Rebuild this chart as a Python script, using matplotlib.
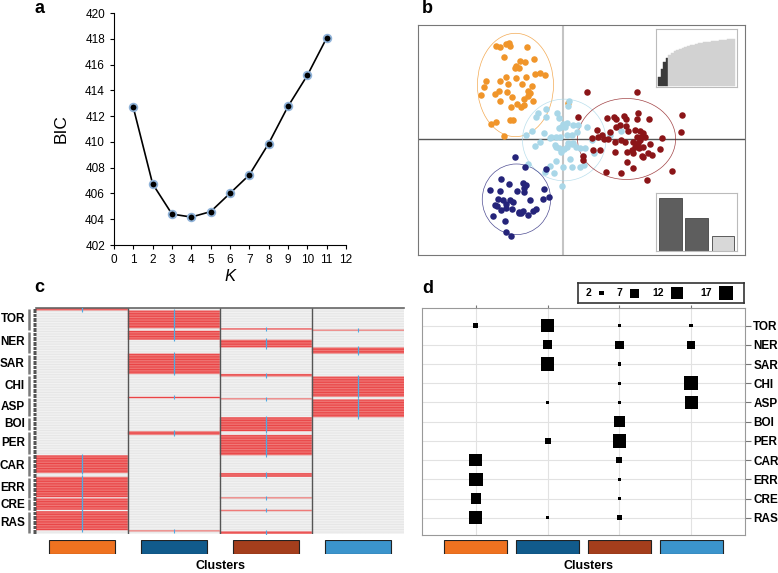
import matplotlib.pyplot as plt
import numpy as np
from matplotlib.patches import Ellipse
from matplotlib.colors import ListedColormap
import matplotlib.transforms as mtransforms

plt.rcParams['font.family'] = ['Liberation Sans', 'DejaVu Sans']

# ---- data ----
# a: BIC against number of clusters
k_values = np.arange(1, 12)
bic = [412.67, 406.74, 404.40, 404.17, 404.59, 406.01, 407.44, 409.87, 412.75, 415.16, 418.06]

# b: individuals on the first two discriminant functions
orange_xy = [(-2.02, 2.79), (-1.90, 2.77), (-1.70, 2.85), (-1.62, 2.87), (-1.60, 2.80), (-1.08, 2.75),
             (-1.78, 2.45), (-1.28, 2.34), (-1.15, 2.31), (-0.88, 2.40), (-1.40, 2.19), (-1.32, 2.13),
             (-1.45, 2.13), (-1.70, 1.85), (-1.90, 1.74), (-1.40, 1.83), (-0.83, 1.94), (-0.70, 1.99),
             (-0.53, 1.91), (-1.12, 1.85), (-2.32, 1.74), (-2.38, 1.55), (-1.92, 1.45), (-1.65, 1.65),
             (-1.22, 1.65), (-0.92, 1.59), (-2.45, 1.33), (-2.05, 1.34), (-1.68, 1.41), (-1.05, 1.45),
             (-1.00, 1.37), (-1.04, 1.29), (-1.88, 1.15), (-1.52, 1.27), (-1.18, 1.19), (-0.90, 1.15),
             (-1.37, 1.05), (-1.55, 0.97), (-1.18, 1.02), (-1.25, 0.97), (-2.15, 0.45), (-2.02, 0.51),
             (-1.60, 0.57), (-1.50, 0.57), (-1.77, 0.09), (0.13, 1.09)]
lightblue_xy = [(0.18, 1.14), (0.15, 0.99), (-0.18, 0.77), (-0.52, 0.90), (-0.82, 0.67), (-0.75, 0.77),
                (-0.50, 0.65), (-0.12, 0.62), (0.00, 0.45), (-0.05, 0.37), (0.05, 0.37), (-0.12, 0.32),
                (0.10, 0.49), (0.30, 0.42), (0.45, 0.42), (0.42, 0.22), (0.70, 0.35), (0.25, 0.12),
                (0.10, 0.12), (-0.08, 0.07), (-0.20, 0.05), (-0.35, 0.05), (-0.57, 0.17), (-0.94, 0.24),
                (-1.10, 0.12), (-0.70, -0.08), (-0.85, -0.20), (-0.38, 0.02), (-0.25, -0.18), (-0.20, -0.23),
                (-0.12, -0.28), (0.02, -0.31), (-0.05, -0.38), (0.10, -0.23), (0.25, -0.15), (0.30, -0.11),
                (0.38, -0.23), (0.50, -0.28), (0.60, -0.51), (0.93, -0.43), (0.85, -0.03), (0.65, -0.28),
                (0.20, -0.61), (-0.20, -0.65), (-0.40, -0.81), (-0.53, -0.98), (-0.27, -1.01), (0.00, -0.83),
                (0.25, -0.83), (0.50, -0.83), (0.63, -0.78), (0.15, -0.13), (1.72, 0.24), (1.40, 0.12),
                (-0.02, -1.41), (-1.05, -0.76)]
darkred_xy = [(0.70, 1.42), (2.22, 1.40), (0.44, 0.67), (1.30, 0.62), (1.53, 0.65), (1.58, 0.60),
              (1.82, 0.70), (1.88, 0.59), (2.20, 0.59), (2.25, 0.79), (2.58, 0.59), (3.55, 0.72),
              (1.00, 0.27), (1.40, 0.21), (1.58, 0.37), (1.70, 0.42), (1.88, 0.39), (1.95, 0.25),
              (2.15, 0.27), (2.30, 0.25), (2.40, 0.17), (0.85, 0.04), (1.05, 0.07), (1.15, 0.12),
              (1.22, -0.01), (1.35, -0.01), (1.55, -0.08), (1.72, -0.03), (1.86, -0.08), (2.10, -0.08),
              (2.20, 0.05), (2.32, 0.05), (2.45, 0.07), (2.95, 0.04), (3.52, 0.22), (0.58, -0.51),
              (0.60, -0.63), (0.90, -0.33), (1.10, -0.33), (1.55, -0.38), (1.92, -0.38), (2.15, -0.23),
              (2.25, -0.13), (2.28, -0.28), (2.38, -0.23), (2.60, -0.16), (2.90, -0.30), (2.65, -0.48),
              (2.40, -0.53), (1.90, -0.70), (2.10, -0.88), (2.35, -0.51), (2.55, -0.43), (1.27, -0.98),
              (1.72, -1.03), (2.50, -1.23), (3.27, -0.95), (2.30, -0.03), (2.10, -0.43), (2.05, -0.33)]
navy_xy = [(-1.45, -0.53), (-1.13, -0.85), (-0.50, -0.91), (-1.85, -1.21), (-1.62, -1.36), (-1.20, -1.31),
           (-1.12, -1.38), (-1.18, -1.48), (-1.38, -1.56), (-2.20, -1.53), (-1.90, -1.55), (-1.18, -1.58),
           (-0.58, -1.51), (-0.43, -1.75), (-0.60, -1.81), (-1.95, -1.81), (-1.80, -1.83), (-1.60, -1.83),
           (-1.50, -1.88), (-1.70, -1.95), (-2.05, -1.98), (-1.97, -2.00), (-1.85, -2.13), (-1.72, -2.08),
           (-1.52, -2.11), (-1.32, -2.18), (-1.25, -2.23), (-1.05, -2.28), (-0.90, -2.15), (-2.10, -2.31),
           (-1.75, -2.45), (-1.32, -2.23), (-1.70, -2.78), (-1.55, -2.91), (-1.20, -2.15), (-1.00, -1.83),
           (-0.82, -2.11)]
# ellipse centre x, centre y, width, height
orange_ell = (-1.43, 1.62, 2.28, 3.10)
lightblue_ell = (0.03, -0.03, 2.50, 2.45)
darkred_ell = (1.90, 0.00, 2.94, 2.43)
navy_ell = (-1.40, -1.81, 2.05, 2.12)

# b insets: retained PCA variance (cumulative %) and discriminant eigenvalues
pca_cumvar = [18, 35, 50, 60, 67, 71, 74, 77, 79, 81, 83, 85, 87, 88, 89.5,
              91, 92, 93, 94, 95, 96, 96.5, 97, 98, 98.5, 99, 99.5, 100, 100]
n_pca_kept = 4
da_eig = [159, 100, 46]

# c/d: populations and number of individuals assigned to each cluster
pops = ['TOR', 'NER', 'SAR', 'CHI', 'ASP', 'BOI', 'PER', 'CAR', 'ERR', 'CRE', 'RAS']
counts = np.array([
    [2, 14, 1, 1],
    [0, 7, 6, 5],
    [0, 16, 1, 0],
    [0, 0, 1, 16],
    [0, 1, 1, 14],
    [0, 0, 11, 0],
    [0, 3, 16, 0],
    [14, 0, 3, 0],
    [16, 0, 1, 0],
    [9, 0, 1, 0],
    [15, 1, 2, 0],
])
legend_sizes = [2, 7, 12, 17]
cluster_colors = ['#ef7220', '#115b8c', '#a43e1c', '#3b94cc']

fig = plt.figure(figsize=(7.78, 5.73), dpi=100)

# ---------------- a ----------------
ax_a = fig.add_axes([0.1465, 0.5724, 0.2982, 0.4049])
ax_a.plot(k_values, bic, color='black', lw=1.2, marker='o', ms=5.5,
          mfc='black', mec='#8fb2d8', mew=1.3)
ax_a.set_xlim(0, 12)
ax_a.set_ylim(402, 420)
ax_a.set_xticks(range(0, 13))
ax_a.set_yticks(range(402, 421, 2))
ax_a.spines['top'].set_visible(False)
ax_a.spines['right'].set_visible(False)
ax_a.tick_params(labelsize=8.5, length=3, direction='out')
ax_a.set_ylabel('BIC', fontsize=12.5, labelpad=12)
ax_a.set_xlabel('K', fontsize=12, style='italic', labelpad=2)

# ---------------- b ----------------
ax_b = fig.add_axes([0.5373, 0.555, 0.4203, 0.4014])
ax_b.set_xlim(-4.35, 5.45)
ax_b.set_ylim(-3.48, 3.42)
ax_b.axvline(0, color='#c4c4c4', lw=1.5, zorder=1)
ax_b.axhline(0, color='#555555', lw=1.0, zorder=1)
groups = [(orange_xy, orange_ell, '#f0952a'),
          (lightblue_xy, lightblue_ell, '#a9d7e8'),
          (darkred_xy, darkred_ell, '#8b1518'),
          (navy_xy, navy_ell, '#25247a')]
for pts, ell, col in groups:
    pts = np.array(pts)
    ax_b.scatter(pts[:, 0], pts[:, 1], s=22, color=col, lw=0, zorder=3)
    ax_b.add_patch(Ellipse((ell[0], ell[1]), ell[2], ell[3], fill=False,
                           ec=col, lw=0.5, alpha=0.8, zorder=2))
ax_b.set_xticks([])
ax_b.set_yticks([])
for s in ax_b.spines.values():
    s.set_color('#777777')

# inset: PCA variance
ax_i1 = fig.add_axes([0.8432, 0.8482, 0.1041, 0.1012])
bx = np.arange(len(pca_cumvar))
bar_cols = ['#3a3a3a' if i < n_pca_kept else '#d2d2d2' for i in bx]
ax_i1.bar(bx, pca_cumvar, width=1.0, color=bar_cols, ec=bar_cols, lw=0.3)
ax_i1.set_xlim(-1.2, len(pca_cumvar) + 0.3)
ax_i1.set_ylim(-3, 122)
ax_i1.set_xticks([])
ax_i1.set_yticks([])
for s in ax_i1.spines.values():
    s.set_color('#bbbbbb')

# inset: discriminant eigenvalues
ax_i2 = fig.add_axes([0.8432, 0.5620, 0.1041, 0.1012])
ax_i2.bar(range(3), da_eig, width=0.86, color=['#5e5e5e', '#5e5e5e', '#d8d8d8'],
          ec='#444444', lw=0.6)
ax_i2.set_xlim(-0.55, 2.53)
ax_i2.set_ylim(0, 174)
ax_i2.set_xticks([])
ax_i2.set_yticks([])
for s in ax_i2.spines.values():
    s.set_color('#bbbbbb')

# ---------------- c ----------------
row_cluster = []
pop_bounds = []
for c in counts:
    start = len(row_cluster)
    for j, n in enumerate(c):
        row_cluster += [j] * n
    pop_bounds.append((start, len(row_cluster)))
row_cluster = np.array(row_cluster)
n_rows = len(row_cluster)

codes = np.zeros((n_rows, 4))
for i, j in enumerate(row_cluster):
    codes[i, :] = i % 2
    codes[i, j] = 2 + i % 2
cmap = ListedColormap(['#e6e6e6', '#f3f3f3', '#e94446', '#f07a78'])

ax_c = fig.add_axes([0.0463, 0.0681, 0.473, 0.3944])
# columns widened so smoothing only acts between rows
ax_c.imshow(np.repeat(codes, 60, axis=1), cmap=cmap, vmin=-0.5, vmax=3.5, aspect='auto',
            extent=(0, 4, n_rows, 0), interpolation='bilinear', interpolation_stage='rgba')
ax_c.scatter(row_cluster + 0.5, np.arange(n_rows) + 0.5, marker='|', s=6,
             color='#4fa9e2', lw=0.8, zorder=3)
for xv in [1, 2, 3]:
    ax_c.axvline(xv, color='#555555', lw=1.0)
ax_c.set_xlim(0, 4)
ax_c.set_ylim(n_rows, 0)
ax_c.set_xticks([])
ax_c.set_yticks(np.arange(n_rows) + 0.5)
ax_c.set_yticklabels([])
ax_c.tick_params(axis='y', length=2.5, width=0.6, color='#333333')
for k in ['left', 'right', 'bottom']:
    ax_c.spines[k].set_visible(False)
ax_c.spines['top'].set_color('#666666')
ax_c.spines['top'].set_linewidth(1.2)

trans = mtransforms.blended_transform_factory(ax_c.transAxes, ax_c.transData)
for name, (a, b) in zip(pops, pop_bounds):
    ax_c.plot([-0.019, -0.019], [a + 0.7, b - 0.7], color='#7a7a7a', lw=1.8,
              transform=trans, clip_on=False, solid_capstyle='butt')
    ax_c.text(-0.03, (a + b) / 2, name, transform=trans, ha='right', va='center',
              fontsize=8.5, fontweight='bold')

ax_cc = fig.add_axes([0.0463, 0.0332, 0.473, 0.0244])
ax_cc.bar(np.arange(4) + 0.5, [1] * 4, width=0.72, color=cluster_colors,
          ec='#222222', lw=0.8)
ax_cc.set_xlim(0, 4)
ax_cc.set_ylim(0, 1)
ax_cc.axis('off')
fig.text(0.283, 0.012, 'Clusters', ha='center', va='center', fontsize=9, fontweight='bold')

# ---------------- d ----------------
ax_d = fig.add_axes([0.5424, 0.0663, 0.4152, 0.3962])
yy, xx = np.nonzero(counts)
ax_d.scatter(xx + 1, yy + 1, s=6 * counts[yy, xx], marker='s', color='black', lw=0, zorder=3)
ax_d.set_xlim(0.25, 4.75)
ax_d.set_ylim(11.9, 0.08)
ax_d.set_xticks([1, 2, 3, 4])
ax_d.set_yticks(np.arange(1, 12))
ax_d.set_yticklabels(pops, fontsize=8.5, fontweight='bold')
ax_d.yaxis.tick_right()
ax_d.xaxis.tick_top()
ax_d.set_xticklabels([])
ax_d.tick_params(axis='y', length=4, color='#777777', pad=2)
ax_d.tick_params(axis='x', length=2, color='#777777')
ax_d.grid(True, color='#e2e2e2', lw=0.8)
ax_d.set_axisbelow(True)
for s in ax_d.spines.values():
    s.set_color('#999999')

ax_leg = fig.add_axes([0.7429, 0.4712, 0.2134, 0.0349])
ax_leg.set_xlim(0, 1)
ax_leg.set_ylim(0, 1)
sq_x = [0.142, 0.343, 0.596, 0.889]
txt_x = [0.078, 0.27, 0.518, 0.807]
ax_leg.scatter(sq_x, [0.5] * 4, s=[6 * v for v in legend_sizes], marker='s', color='black', lw=0)
for tx, v in zip(txt_x, legend_sizes):
    ax_leg.text(tx, 0.5, str(v), ha='right', va='center', fontsize=7.5, fontweight='bold')
ax_leg.set_xticks([])
ax_leg.set_yticks([])
for s in ax_leg.spines.values():
    s.set_color('#333333')
    s.set_linewidth(1.2)

ax_dc = fig.add_axes([0.5424, 0.0332, 0.4152, 0.0244])
ax_dc.bar([1, 2, 3, 4], [1] * 4, width=0.88, color=cluster_colors, ec='#222222', lw=0.8)
ax_dc.set_xlim(0.25, 4.75)
ax_dc.set_ylim(0, 1)
ax_dc.axis('off')
fig.text(0.757, 0.012, 'Clusters', ha='center', va='center', fontsize=9, fontweight='bold')

# panel letters
for x, y, lab in [(0.051, 0.985, 'a'), (0.549, 0.985, 'b'), (0.051, 0.499, 'c'), (0.550, 0.497, 'd')]:
    fig.text(x, y, lab, ha='center', va='center', fontsize=13, fontweight='bold')

fig.savefig('out.png', dpi=100)
